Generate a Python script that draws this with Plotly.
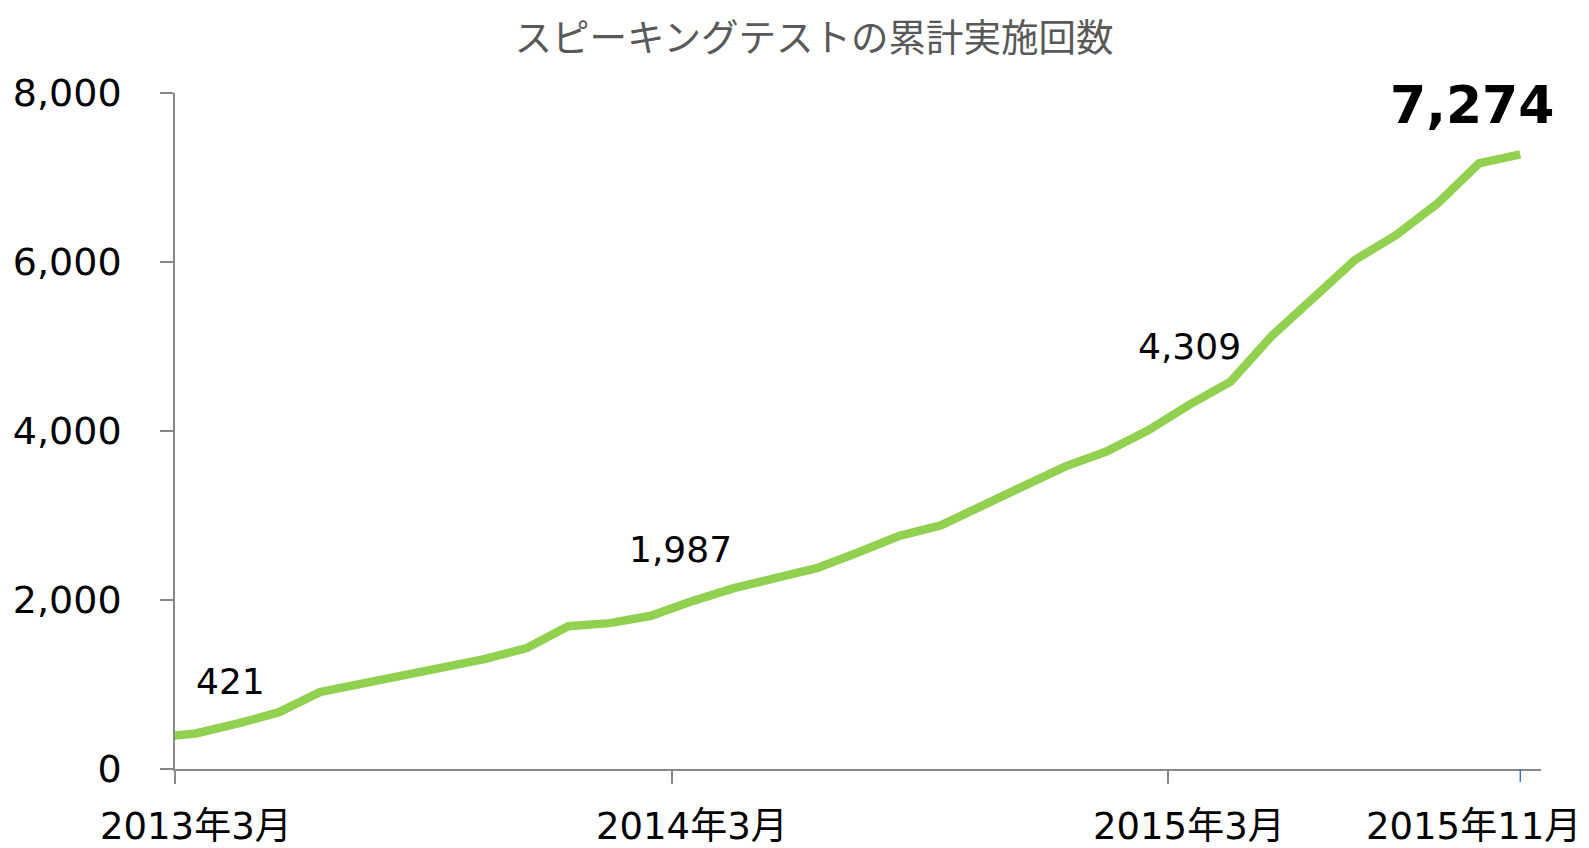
import plotly.graph_objects as go

# ---- data -------------------------------------------------------------
months = []
_y, _m = 2013, 2
while (_y, _m) <= (2015, 11):
    months.append(f"{_y}年{_m}月")
    _m += 1
    if _m > 12:
        _y, _m = _y + 1, 1

cumulative = [370, 421, 536, 670, 910, 1009, 1088, 1206, 1304, 1431, 1690,
              1726, 1813, 1987, 2140, 2259, 2377, 2562, 2759, 2883, 3110, 3342, 3579,
              3756, 4005, 4309, 4584, 5126, 5582, 6023, 6319, 6693, 7167, 7274]

axis_label_months = ["2013年3月", "2014年3月", "2015年3月", "2015年11月"]
boundary_months = ["2013年3月", "2014年3月", "2015年3月"]
labeled_months = ["2013年3月", "2014年3月", "2015年3月", "2015年11月"]
y_ticks = [0, 2000, 4000, 6000, 8000]
title_text = "スピーキングテストの累計実施回数"

# ---- figure -----------------------------------------------------------
idx = list(range(len(months)))
pos = {m: i for i, m in enumerate(months)}

# page body has an 8px default margin, so the figure is sized to fit inside the window
W, H = 1581, 840
ml, mr, mt, mb = 167, 48, 85, 79
plot_h = H - mt - mb

FONT = "DejaVu Sans, Noto Sans CJK JP, sans-serif"
AXIS_COLOR = "#898989"

fig = go.Figure()
fig.add_trace(go.Scatter(
    x=idx, y=cumulative, mode="lines",
    line=dict(color="#92D050", width=8.5),
    hoverinfo="skip", showlegend=False,
))

annotations = []
# data labels
offsets = {"2013年3月": (35, 52, False), "2014年3月": (-12, 52, False),
           "2015年3月": (0, 58, False), "2015年11月": (-48, 49, True)}
for m in labeled_months:
    v = cumulative[pos[m]]
    dx, dy, bold = offsets[m]
    txt = f"{v:,}"
    annotations.append(dict(
        x=pos[m], y=v, xref="x", yref="y", text=f"<b>{txt}</b>" if bold else txt,
        showarrow=False, xshift=dx, yshift=dy, xanchor="center", yanchor="middle",
        font=dict(family=FONT, size=52 if bold else 36, color="#000000"),
    ))

# category axis labels
label_y = -mb / plot_h
for m in axis_label_months:
    if m == "2015年11月":
        annotations.append(dict(
            x=1, y=label_y, xref="paper", yref="paper", text=m, showarrow=False,
            xanchor="right", yanchor="bottom", xshift=42, yshift=-2,
            font=dict(family=FONT, size=37, color="#000000")))
    else:
        annotations.append(dict(
            x=pos[m], y=label_y, xref="x", yref="paper", text=m, showarrow=False,
            xanchor="center", yanchor="bottom", yshift=-2,
            font=dict(family=FONT, size=37, color="#000000")))

shapes = [dict(type="line", xref="x", yref="paper",
               x0=pos["2015年11月"], x1=pos["2015年11月"], y0=0, y1=-13 / plot_h,
               line=dict(color="#4472C4", width=1.5))]

fig.update_layout(
    width=W, height=H,
    margin=dict(l=ml, r=mr, t=mt, b=mb, pad=0, autoexpand=False),
    paper_bgcolor="white", plot_bgcolor="white",
    title=dict(text=title_text, x=806 / W, xanchor="center", y=1 - 30 / H, yanchor="middle",
               font=dict(family="Noto Sans CJK JP, sans-serif", size=37.5, color="#595959")),
    xaxis=dict(
        range=[pos["2013年3月"] - 0.5, pos["2015年11月"] + 0.5], automargin=False,
        tickmode="array", tickvals=[pos[m] - 0.5 for m in boundary_months],
        showticklabels=False, ticks="outside", ticklen=13, tickwidth=1.5, tickcolor=AXIS_COLOR,
        showline=True, linecolor=AXIS_COLOR, linewidth=1.5,
        showgrid=False, zeroline=False, fixedrange=True,
    ),
    yaxis=dict(
        range=[0, 8000], tickmode="array", tickvals=y_ticks, tickformat=",", automargin=False,
        ticks="outside", ticklen=13, tickwidth=1.5, tickcolor=AXIS_COLOR,
        ticklabelstandoff=31,
        showline=True, linecolor=AXIS_COLOR, linewidth=1.5,
        showgrid=False, zeroline=False, fixedrange=True,
        tickfont=dict(family=FONT, size=38, color="#000000"),
    ),
    annotations=annotations, shapes=shapes,
)

fig.write_html("out.html")
